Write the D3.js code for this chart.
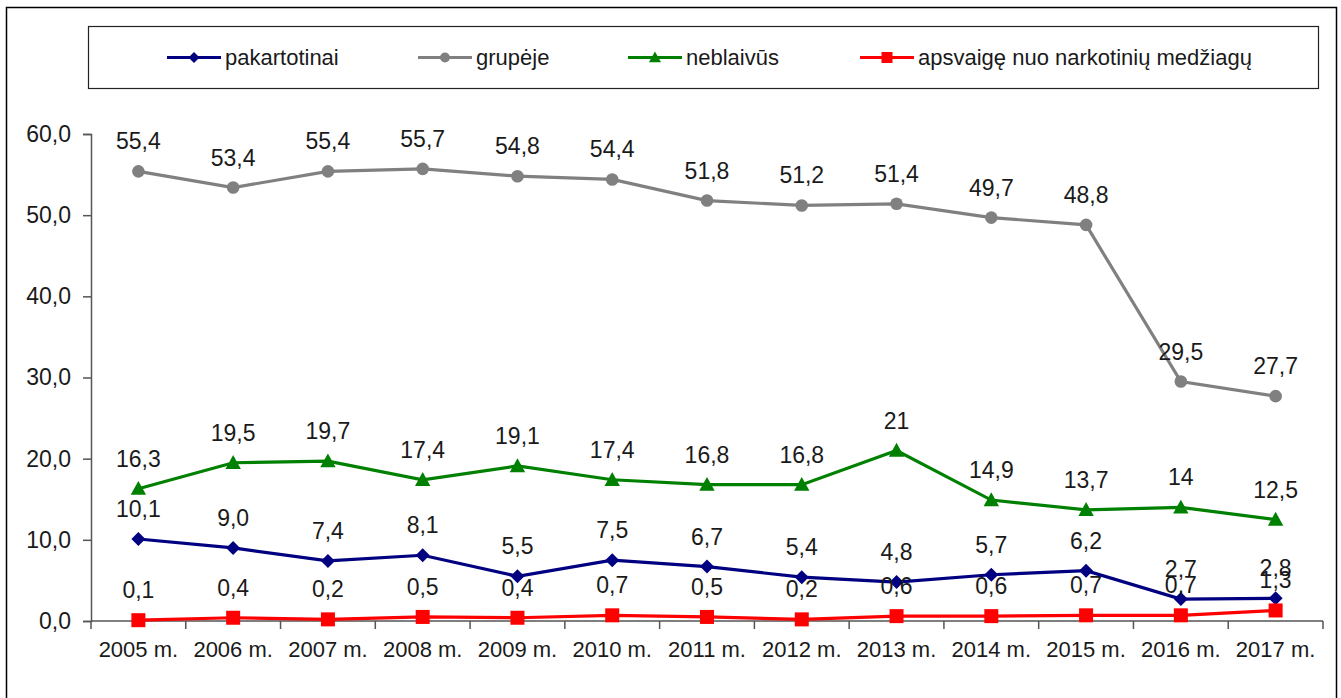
<!DOCTYPE html>
<html>
<head>
<meta charset="utf-8">
<script src="https://cdn.jsdelivr.net/npm/d3@7"></script>
<style>
  body { margin: 0; background: #fff; }
  svg { display: block; font-family: "Liberation Sans", Arial, sans-serif; }
</style>
</head>
<body>
<div id="chart"></div>
<script>
const W = 1341, H = 698;

const years = ["2005 m.", "2006 m.", "2007 m.", "2008 m.", "2009 m.", "2010 m.", "2011 m.",
  "2012 m.", "2013 m.", "2014 m.", "2015 m.", "2016 m.", "2017 m."];
const pakartotinai = [10.1, 9.0, 7.4, 8.1, 5.5, 7.5, 6.7, 5.4, 4.8, 5.7, 6.2, 2.7, 2.8];
const grupeje = [55.4, 53.4, 55.4, 55.7, 54.8, 54.4, 51.8, 51.2, 51.4, 49.7, 48.8, 29.5, 27.7];
const neblaivus = [16.3, 19.5, 19.7, 17.4, 19.1, 17.4, 16.8, 16.8, 21, 14.9, 13.7, 14, 12.5];
const apsvaige = [0.1, 0.4, 0.2, 0.5, 0.4, 0.7, 0.5, 0.2, 0.6, 0.6, 0.7, 0.7, 1.3];
const yTicks = [0, 10, 20, 30, 40, 50, 60];

// the source prints whole numbers without decimals in this series
const fmtComma = d => d3.format(".1f")(d).replace(".", ",");
const fmtPlain = d => String(d).replace(".", ",");

const series = [
  { name: "pakartotinai", values: pakartotinai, color: "#000080", marker: "diamond", fmt: fmtComma },
  { name: "grupėje", values: grupeje, color: "#808080", marker: "circle", fmt: fmtComma },
  { name: "neblaivūs", values: neblaivus, color: "#008000", marker: "triangle", fmt: fmtPlain },
  { name: "apsvaigę nuo narkotinių medžiagų", values: apsvaige, color: "#FF0000", marker: "square", fmt: fmtComma }
];

const svg = d3.select("#chart").append("svg").attr("width", W).attr("height", H);

// outer frame
svg.append("rect").attr("x", 6.5).attr("y", 7.5).attr("width", 1330).attr("height", 700)
  .attr("fill", "none").attr("stroke", "#000").attr("stroke-width", 1.5);

const plot = { left: 91, right: 1323, top: 134, bottom: 621 };

const x = d3.scaleBand().domain(years).range([plot.left, plot.right]);
const y = d3.scaleLinear().domain([0, 60]).range([plot.bottom, plot.top]);
const cx = d => x(d) + x.bandwidth() / 2;

// y axis
const yAxis = svg.append("g").attr("transform", `translate(${plot.left},0)`)
  .call(d3.axisLeft(y).tickValues(yTicks).tickFormat(fmtComma).tickSize(8).tickPadding(12));
yAxis.select(".domain").attr("stroke", "#555").attr("stroke-width", 1.5);
yAxis.selectAll(".tick line").attr("stroke", "#555").attr("stroke-width", 1.5);
yAxis.selectAll("text").attr("font-size", 23).attr("fill", "#1a1a1a")
  .attr("font-family", "Liberation Sans, Arial, sans-serif");

// x axis with ticks at category boundaries
const xAxis = svg.append("g").attr("transform", `translate(0,${plot.bottom})`);
xAxis.append("line").attr("x1", plot.left).attr("x2", plot.right)
  .attr("stroke", "#555").attr("stroke-width", 1.5);
xAxis.selectAll(".xtick").data(years.concat([null])).enter().append("line")
  .attr("x1", d => d === null ? plot.right : x(d)).attr("x2", d => d === null ? plot.right : x(d))
  .attr("y1", 0).attr("y2", 8).attr("stroke", "#555").attr("stroke-width", 1.5);
xAxis.selectAll(".xlabel").data(years).enter().append("text")
  .attr("x", d => cx(d)).attr("y", 36).attr("text-anchor", "middle")
  .attr("font-size", 22).attr("fill", "#1a1a1a").text(d => d);

function drawMarker(g, type, color, size) {
  if (type === "circle") {
    g.append("circle").attr("r", size * 0.45).attr("fill", color);
  } else if (type === "diamond") {
    const s = size * 0.5;
    g.append("path").attr("d", `M0,${-s} L${s},0 L0,${s} L${-s},0Z`).attr("fill", color);
  } else if (type === "triangle") {
    const s = size * 0.55;
    g.append("path").attr("d", `M0,${-s} L${s},${s * 0.8} L${-s},${s * 0.8}Z`).attr("fill", color);
  } else {
    const s = size * 0.5;
    g.append("rect").attr("x", -s).attr("y", -s).attr("width", 2 * s).attr("height", 2 * s).attr("fill", color);
  }
}

const line = d3.line().x((d, i) => cx(years[i])).y(d => y(d));

// draw order: grupėje, neblaivūs, pakartotinai, apsvaigę on top
const order = [1, 2, 0, 3];
order.forEach(k => {
  const s = series[k];
  const g = svg.append("g");
  g.append("path").datum(s.values).attr("d", line)
    .attr("fill", "none").attr("stroke", s.color).attr("stroke-width", 3.2);
  s.values.forEach((v, i) => {
    const m = g.append("g").attr("transform", `translate(${cx(years[i])},${y(v)})`);
    drawMarker(m, s.marker, s.color, 14);
  });
});

// data labels
order.forEach(k => {
  const s = series[k];
  svg.append("g").selectAll("text").data(s.values).enter().append("text")
    .attr("x", (d, i) => cx(years[i])).attr("y", d => y(d) - 22)
    .attr("text-anchor", "middle").attr("font-size", 23).attr("fill", "#1a1a1a")
    .text(d => s.fmt(d));
});

// legend
svg.append("rect").attr("x", 88.5).attr("y", 26.5).attr("width", 1230).attr("height", 62)
  .attr("fill", "#fff").attr("stroke", "#222").attr("stroke-width", 1.2);
const legendX = [167, 418, 628, 860];
series.forEach((s, i) => {
  const g = svg.append("g").attr("transform", `translate(${legendX[i]},57.5)`);
  g.append("line").attr("x1", 0).attr("x2", 54).attr("stroke", s.color).attr("stroke-width", 3);
  const m = g.append("g").attr("transform", "translate(27,0)");
  drawMarker(m, s.marker, s.color, 11);
  g.append("text").attr("x", 58).attr("y", 7).attr("font-size", 22).attr("fill", "#1a1a1a").text(s.name);
});
</script>
</body>
</html>
